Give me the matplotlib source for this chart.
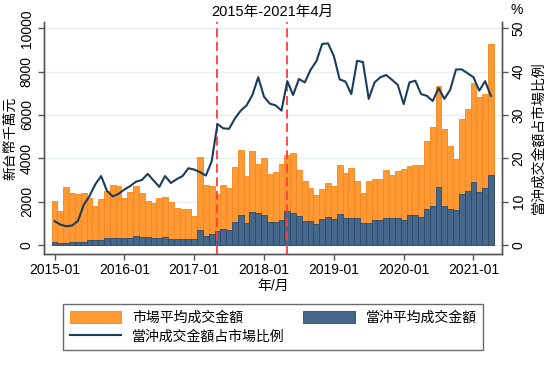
import matplotlib
matplotlib.use('Agg')
import matplotlib.pyplot as plt
import numpy as np

plt.rcParams['font.family'] = ['Liberation Sans', 'Noto Sans CJK TC', 'DejaVu Sans']
plt.rcParams['font.size'] = 10

# monthly values, 2015-01 .. 2021-04
market = [2030, 1580, 2660, 2420, 2330, 2420, 2150, 1815, 2140, 2490, 2780, 2720,
          2180, 2460, 2720, 2400, 2040, 1950, 2150, 2200, 1960, 1720, 1640, 1645,
          1350, 4040, 2750, 2700, 2340, 2760, 2610, 3610, 4380, 3160, 4350, 3740,
          4030, 3280, 3350, 3740, 4130, 4260, 3460, 2930, 2645, 2285, 2580, 2850,
          2740, 3690, 3300, 3570, 2940, 2380, 2970, 3040, 3045, 3445, 3230, 3415,
          3490, 3660, 3670, 3690, 4800, 5460, 7340, 5340, 4570, 3970, 5810, 6260,
          7490, 6850, 6950, 9270]
daytrade = [120, 80, 110, 120, 130, 150, 230, 245, 250, 340, 310, 310,
            300, 320, 400, 380, 350, 320, 340, 370, 290, 260, 280, 280,
            270, 690, 430, 520, 640, 750, 710, 1050, 1370, 1030, 1530, 1460,
            1380, 1070, 1070, 1150, 1570, 1490, 1320, 1110, 1090, 990, 1200, 1310,
            1190, 1415, 1250, 1245, 1245, 1000, 1020, 1140, 1170, 1260, 1245, 1245,
            1140, 1370, 1400, 1310, 1660, 1815, 2660, 1815, 1660, 1615, 2370, 2490,
            2890, 2430, 2645, 3215]
ratio = [5.5, 4.7, 4.3, 4.5, 5.5, 9.2, 11.3, 14.0, 15.9, 12.5, 11.2, 11.8,
         12.8, 13.6, 14.6, 15.0, 16.4, 14.9, 13.4, 15.9, 14.3, 15.2, 15.9, 17.7,
         17.4, 16.8, 16.0, 19.3, 27.9, 26.9, 26.8, 29.2, 31.0, 32.2, 34.6, 38.7,
         34.2, 32.6, 32.2, 31.0, 37.8, 34.6, 38.3, 37.5, 40.4, 42.4, 46.4, 46.5,
         43.6, 38.2, 37.7, 34.8, 42.5, 42.2, 33.7, 37.5, 38.7, 39.2, 38.1, 36.9,
         32.5, 37.5, 37.9, 34.8, 34.4, 33.2, 36.2, 33.7, 35.8, 40.5, 40.5, 39.6,
         38.7, 35.6, 37.8, 34.4]
year_ticks = ['2015-01', '2016-01', '2017-01', '2018-01', '2019-01', '2020-01', '2021-01']
# policy dates (2017-04-28, 2018-04-28) as month index
event_months = [27.9, 39.9]

x = np.arange(len(market))

fig = plt.figure(figsize=(5.58, 3.66), dpi=100)
ax = fig.add_axes([0.078, 0.307, 0.8216, 0.633])
ax2 = ax.twinx()

ax.set_zorder(1)
ax2.set_zorder(2)
ax2.patch.set_visible(False)

for yv in range(0, 10001, 2000):
    ax.axhline(yv, color='#e6eff1', lw=1.0, zorder=0)

b1 = ax.bar(x, market, width=1.0, color='#ff9933', edgecolor='#f5861f', lw=0.6, zorder=2,
            label='市場平均成交金額')
b2 = ax.bar(x, daytrade, width=1.0, color='#45678a', edgecolor='#2b4b6c', lw=0.6, zorder=3,
            label='當沖平均成交金額')
for ev in event_months:
    ax.axvline(ev, color='#ff3b3b', lw=1.3, ls=(0, (5, 2.5)), zorder=4)

l1, = ax2.plot(x, ratio, color='#1a3d5e', lw=1.5, label='當沖成交金額占市場比例')

ax.set_xlim(-1.9, 76.9)
ax.set_ylim(-400, 10290)
ax2.set_ylim(-2, 51.45)

ax.set_xticks(np.arange(0, 73, 12))
ax.set_xticklabels(year_ticks)
ax.set_yticks(range(0, 10001, 2000))
ax.set_yticklabels([str(v) for v in range(0, 10001, 2000)], rotation=90, va='center')
ax2.set_yticks(range(0, 51, 10))
ax2.set_yticklabels([str(v) for v in range(0, 51, 10)], rotation=90, va='center')

for a in (ax, ax2):
    a.tick_params(direction='out', length=4, width=1, color='#555555', labelcolor='black', pad=3)
    a.spines['top'].set_visible(False)
    for s in ('left', 'right', 'bottom'):
        a.spines[s].set_color('#555555')
        a.spines[s].set_linewidth(1.0)

ax.set_xlabel('年/月', labelpad=1)
fig.text(10 / 558, 1 - 138 / 366, '新台幣千萬元', rotation=90, ha='center', va='center',
         fontsize=10)
ax2.set_ylabel('當沖成交金額占市場比例', labelpad=4)
ax.set_title('2015年-2021年4月', fontsize=10.5, pad=4)
fig.text(517 / 558, 1 - 10 / 366, '%', ha='center', va='center', fontsize=10)

fig.legend([b1, l1, b2], ['市場平均成交金額', '當沖成交金額占市場比例', '當沖平均成交金額'],
           ncol=2, loc='center', bbox_to_anchor=(56.5 / 558, 15 / 366, 433.5 / 558, 48 / 366),
           mode='expand', frameon=True, fancybox=False, edgecolor='#444444',
           handlelength=3.7, handleheight=0.9, borderpad=0.45, labelspacing=0.35,
           handletextpad=0.8, fontsize=10)

fig.savefig('out.png', dpi=100)
